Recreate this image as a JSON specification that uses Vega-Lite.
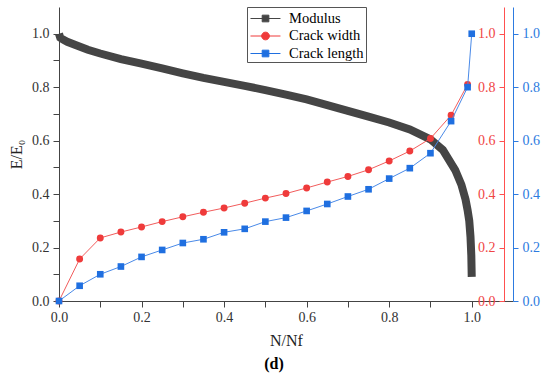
{
  "$schema": "https://vega.github.io/schema/vega-lite/v6.json",
  "width": 454,
  "height": 294,
  "autosize": "none",
  "padding": {"left": 59, "top": 7, "right": 37, "bottom": 77},
  "background": "white",
  "config": {
    "view": {"stroke": null},
    "font": "Liberation Serif",
    "axis": {"grid": false, "labelFont": "Liberation Serif", "titleFont": "Liberation Serif", "labelFontSize": 14, "titleFontSize": 16, "titleFontWeight": "normal", "domainWidth": 1, "tickWidth": 1},
    "legend": {"labelFont": "Liberation Serif"}
  },
  "title": {"text": "(d)", "orient": "bottom", "anchor": "middle", "fontSize": 16, "fontWeight": "bold", "font": "Liberation Serif", "offset": 8, "dx": -12, "color": "black"},
  "datasets": {
    "modulus": [
      {"x": 0, "y": 1.0, "series": "Modulus"},
      {"x": 0.003, "y": 0.985, "series": "Modulus"},
      {"x": 0.01, "y": 0.978, "series": "Modulus"},
      {"x": 0.02, "y": 0.97, "series": "Modulus"},
      {"x": 0.04, "y": 0.958, "series": "Modulus"},
      {"x": 0.07, "y": 0.94, "series": "Modulus"},
      {"x": 0.1, "y": 0.926, "series": "Modulus"},
      {"x": 0.15, "y": 0.905, "series": "Modulus"},
      {"x": 0.2, "y": 0.888, "series": "Modulus"},
      {"x": 0.25, "y": 0.87, "series": "Modulus"},
      {"x": 0.3, "y": 0.852, "series": "Modulus"},
      {"x": 0.35, "y": 0.835, "series": "Modulus"},
      {"x": 0.4, "y": 0.82, "series": "Modulus"},
      {"x": 0.45, "y": 0.805, "series": "Modulus"},
      {"x": 0.5, "y": 0.789, "series": "Modulus"},
      {"x": 0.55, "y": 0.772, "series": "Modulus"},
      {"x": 0.6, "y": 0.754, "series": "Modulus"},
      {"x": 0.65, "y": 0.733, "series": "Modulus"},
      {"x": 0.7, "y": 0.711, "series": "Modulus"},
      {"x": 0.75, "y": 0.69, "series": "Modulus"},
      {"x": 0.8, "y": 0.668, "series": "Modulus"},
      {"x": 0.85, "y": 0.642, "series": "Modulus"},
      {"x": 0.9, "y": 0.605, "series": "Modulus"},
      {"x": 0.93, "y": 0.565, "series": "Modulus"},
      {"x": 0.95, "y": 0.515, "series": "Modulus"},
      {"x": 0.96, "y": 0.49, "series": "Modulus"},
      {"x": 0.975, "y": 0.435, "series": "Modulus"},
      {"x": 0.985, "y": 0.38, "series": "Modulus"},
      {"x": 0.99, "y": 0.34, "series": "Modulus"},
      {"x": 0.994, "y": 0.3, "series": "Modulus"},
      {"x": 0.997, "y": 0.24, "series": "Modulus"},
      {"x": 0.999, "y": 0.17, "series": "Modulus"},
      {"x": 1.0, "y": 0.09, "series": "Modulus"}
    ],
    "width": [
      {"x": 0, "y": 0, "series": "Crack width"},
      {"x": 0.05, "y": 0.157, "series": "Crack width"},
      {"x": 0.1, "y": 0.236, "series": "Crack width"},
      {"x": 0.15, "y": 0.258, "series": "Crack width"},
      {"x": 0.2, "y": 0.277, "series": "Crack width"},
      {"x": 0.25, "y": 0.297, "series": "Crack width"},
      {"x": 0.3, "y": 0.315, "series": "Crack width"},
      {"x": 0.35, "y": 0.332, "series": "Crack width"},
      {"x": 0.4, "y": 0.348, "series": "Crack width"},
      {"x": 0.45, "y": 0.366, "series": "Crack width"},
      {"x": 0.5, "y": 0.385, "series": "Crack width"},
      {"x": 0.55, "y": 0.402, "series": "Crack width"},
      {"x": 0.6, "y": 0.423, "series": "Crack width"},
      {"x": 0.65, "y": 0.445, "series": "Crack width"},
      {"x": 0.7, "y": 0.466, "series": "Crack width"},
      {"x": 0.75, "y": 0.491, "series": "Crack width"},
      {"x": 0.8, "y": 0.524, "series": "Crack width"},
      {"x": 0.85, "y": 0.561, "series": "Crack width"},
      {"x": 0.9, "y": 0.608, "series": "Crack width"},
      {"x": 0.95, "y": 0.695, "series": "Crack width"},
      {"x": 0.99, "y": 0.81, "series": "Crack width"}
    ],
    "length": [
      {"x": 0, "y": 0, "series": "Crack length"},
      {"x": 0.05, "y": 0.057, "series": "Crack length"},
      {"x": 0.1, "y": 0.1, "series": "Crack length"},
      {"x": 0.15, "y": 0.129, "series": "Crack length"},
      {"x": 0.2, "y": 0.165, "series": "Crack length"},
      {"x": 0.25, "y": 0.191, "series": "Crack length"},
      {"x": 0.3, "y": 0.217, "series": "Crack length"},
      {"x": 0.35, "y": 0.231, "series": "Crack length"},
      {"x": 0.4, "y": 0.257, "series": "Crack length"},
      {"x": 0.45, "y": 0.27, "series": "Crack length"},
      {"x": 0.5, "y": 0.297, "series": "Crack length"},
      {"x": 0.55, "y": 0.312, "series": "Crack length"},
      {"x": 0.6, "y": 0.337, "series": "Crack length"},
      {"x": 0.65, "y": 0.363, "series": "Crack length"},
      {"x": 0.7, "y": 0.391, "series": "Crack length"},
      {"x": 0.75, "y": 0.418, "series": "Crack length"},
      {"x": 0.8, "y": 0.458, "series": "Crack length"},
      {"x": 0.85, "y": 0.497, "series": "Crack length"},
      {"x": 0.9, "y": 0.553, "series": "Crack length"},
      {"x": 0.95, "y": 0.673, "series": "Crack length"},
      {"x": 0.99, "y": 0.8, "series": "Crack length"},
      {"x": 1.0, "y": 1.0, "series": "Crack length"}
    ]
  },
  "encoding": {
    "x": {
      "field": "x", "type": "quantitative",
      "scale": {"domain": [0, 1.1], "nice": false},
      "axis": {
        "title": "N/Nf", "titleColor": "#222", "titlePadding": 8, "titleFont": "Liberation Serif",
        "values": [0, 0.1, 0.2, 0.3, 0.4, 0.5, 0.6, 0.7, 0.8, 0.9, 1.0],
        "labelExpr": "round(datum.value*10)%2===0 ? format(datum.value,'.1f') : ''",
        "tickSize": 6, "labelPadding": 3, "labelFont": "Liberation Serif", "labelFontSize": 14,
        "domainColor": "#444", "tickColor": "#444", "labelColor": "#333",
        "labelFlush": false,
        "encode": {"ticks": {"update": {"y2": {"signal": "round(datum.value*10)%2===0 ? 6 : 3"}}}}
      }
    }
  },
  "layer": [
    {
      "data": {"name": "modulus"},
      "mark": {"type": "line", "strokeWidth": 8, "strokeCap": "butt", "color": "#454545"},
      "encoding": {
        "y": {
          "field": "y", "type": "quantitative",
          "scale": {"domain": [0, 1.1], "nice": false},
          "axis": {
            "orient": "left", "title": "E/E₀", "titleColor": "#222", "titlePadding": 7, "titleFont": "Liberation Serif",
            "values": [0, 0.1, 0.2, 0.3, 0.4, 0.5, 0.6, 0.7, 0.8, 0.9, 1.0],
            "labelExpr": "round(datum.value*10)%2===0 ? format(datum.value,'.1f') : ''",
            "tickSize": 6, "labelPadding": 4, "labelFont": "Liberation Serif", "labelFontSize": 14,
            "domainColor": "#444", "tickColor": "#444", "labelColor": "#333",
            "labelFlush": false,
            "encode": {"ticks": {"update": {"x2": {"signal": "round(datum.value*10)%2===0 ? -6 : -3"}}}}
          }
        }
      }
    },
    {
      "data": {"name": "width"},
      "layer": [
        {
          "mark": {"type": "line", "strokeWidth": 1, "color": "#f25c5c"},
          "encoding": {
            "y": {
              "field": "y", "type": "quantitative",
              "scale": {"domain": [0, 1.1], "nice": false},
              "axis": {
                "orient": "left", "offset": -445, "title": null,
                "values": [0, 0.1, 0.2, 0.3, 0.4, 0.5, 0.6, 0.7, 0.8, 0.9, 1.0],
                "labelExpr": "round(datum.value*10)%2===0 ? format(datum.value,'.1f') : ''",
                "tickSize": 5, "labelPadding": 4, "labelFont": "Liberation Serif", "labelFontSize": 14,
                "domainColor": "#ff5050", "tickColor": "#ff5050", "labelColor": "#f04545",
                "labelFlush": false,
                "encode": {"ticks": {"update": {
                  "x": {"signal": "round(datum.value*10)%2===0 ? 5 : 3"},
                  "x2": {"signal": "round(datum.value*10)%2===0 ? -5 : -3"}
                }}}
              }
            }
          }
        },
        {
          "mark": {"type": "point", "shape": "circle", "filled": true, "size": 48, "opacity": 1},
          "encoding": {
            "y": {"field": "y", "type": "quantitative"},
            "color": {
              "field": "series", "type": "nominal",
              "scale": {"domain": ["Modulus", "Crack width", "Crack length"], "range": ["#454545", "#ef3b3b", "#1f6fe0"]},
              "legend": {
                "title": null, "orient": "none", "legendX": 188, "legendY": 0,
                "padding": 2, "symbolSize": 324, "rowPadding": 1.5,
                "labelOffset": 21, "labelFont": "Liberation Serif", "labelFontSize": 14.5, "labelColor": "black",
                "strokeColor": "#555", "fillColor": "white",
                "symbolStrokeWidth": 1, "symbolOpacity": 1,
                "encode": {"symbols": {"update": {
                  "shape": {"signal": "datum.value === 'Crack width' ? 'M-0.89,0H2.44M1.21,0A0.43,0.43 0 1,1 0.35,0A0.43,0.43 0 1,1 1.21,0Z' : 'M-0.89,0H2.44M0.41,-0.37H1.15V0.37H0.41Z'"},
                  "stroke": {"scale": "color", "field": "value"},
                  "fill": {"scale": "color", "field": "value"},
                  "strokeWidth": {"value": 1},
                  "opacity": {"value": 1}
                }}}
              }
            }
          }
        }
      ]
    },
    {
      "data": {"name": "length"},
      "layer": [
        {
          "mark": {"type": "line", "strokeWidth": 1, "color": "#4a8ae8"},
          "encoding": {
            "y": {
              "field": "y", "type": "quantitative",
              "scale": {"domain": [0, 1.1], "nice": false},
              "axis": {
                "orient": "right", "offset": 0, "title": null,
                "values": [0, 0.1, 0.2, 0.3, 0.4, 0.5, 0.6, 0.7, 0.8, 0.9, 1.0],
                "labelExpr": "round(datum.value*10)%2===0 ? format(datum.value,'.1f') : ''",
                "tickSize": 5, "labelPadding": 4, "labelFont": "Liberation Serif", "labelFontSize": 14,
                "domainColor": "#2d7be0", "tickColor": "#2d7be0", "labelColor": "#2d7be0",
                "labelFlush": false,
                "encode": {"ticks": {"update": {"x2": {"signal": "round(datum.value*10)%2===0 ? 5 : 3"}}}}
              }
            }
          }
        },
        {
          "mark": {"type": "point", "shape": "square", "filled": true, "size": 44, "opacity": 1},
          "encoding": {
            "y": {"field": "y", "type": "quantitative"},
            "color": {
              "field": "series", "type": "nominal",
              "scale": {"domain": ["Modulus", "Crack width", "Crack length"], "range": ["#454545", "#ef3b3b", "#1f6fe0"]}
            }
          }
        }
      ]
    }
  ],
  "resolve": {"scale": {"y": "independent"}}
}
